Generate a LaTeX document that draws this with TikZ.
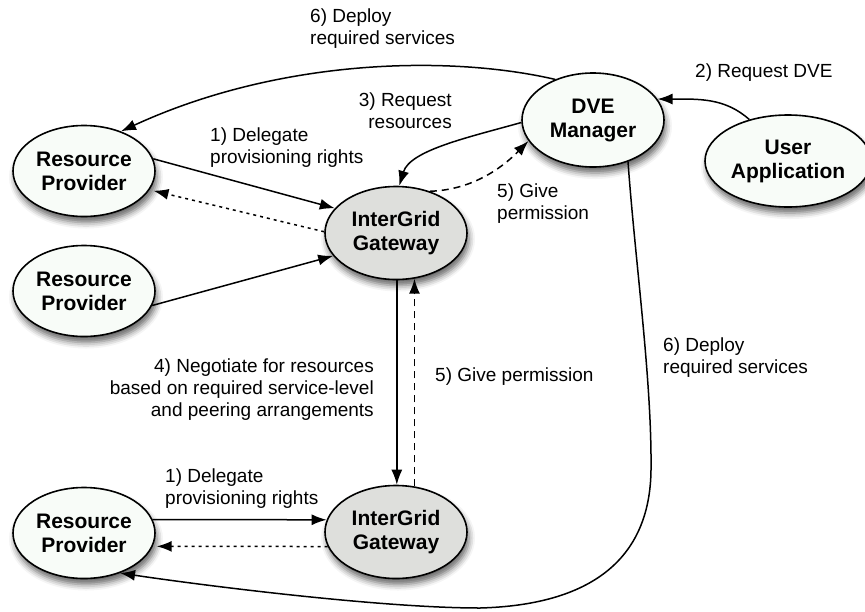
\documentclass[tikz,border=0pt]{standalone}
\usepackage{fontspec}
\setmainfont{Liberation Sans}
\usetikzlibrary{arrows.meta,shapes.geometric,shadows.blur}

\definecolor{nodewhite}{HTML}{F8FCF8}
\definecolor{nodegrey}{HTML}{DEDFDC}

\begin{document}
\begin{tikzpicture}[x=1pt,y=-1pt,
  agent/.style={ellipse, draw=black, line width=1.6pt, fill=nodewhite, inner sep=0pt,
    minimum width=142pt, minimum height=91pt, align=center,
    font=\fontsize{21}{24}\selectfont\bfseries,
    blur shadow={shadow xshift=2pt, shadow yshift=-6pt, shadow blur radius=6pt, shadow opacity=60}},
  gateway/.style={agent, fill=nodegrey},
  link/.style={line width=1.5pt, -{Latex[length=15pt,width=11pt]}},
  dashlink/.style={link, dash pattern=on 7pt off 5pt},
  dotlink/.style={link, dash pattern=on 3pt off 4pt, shorten >=4pt},
  lbl/.style={font=\fontsize{19}{22}\selectfont, inner sep=0pt}
]
\useasboundingbox (0,0) rectangle (865,611);

% participants
\node[agent] (rp1) at (84,171) {Resource\\Provider};
\node[agent] (rp2) at (84,291) {Resource\\Provider};
\node[agent] (rp3) at (84,533) {Resource\\Provider};
\node[gateway, minimum height=93pt] (ig1) at (396,233) {InterGrid\\Gateway};
\node[gateway, minimum height=93pt] (ig2) at (396,532) {InterGrid\\Gateway};
\node[agent, minimum height=94pt] (dve) at (593,120) {DVE\\Manager};
\node[agent, minimum width=166pt, minimum height=92pt] (ua) at (788,161) {User\\Application};

% waypoints of the long deployment path
\coordinate (bend1) at (651,470);
\coordinate (bend2) at (480,608);

% connectors
\draw[link] (dve.133) .. controls (450,55) and (280,58) .. (rp1.47);
\draw[link] (ua.133) .. controls (725,98) and (700,99) .. (dve.18);
\draw[link] (dve.182) .. controls (470,137) and (410,150) .. (ig1.86);
\draw[dashlink] (ig1.51) .. controls (470,190) and (500,170) .. (dve.198);
\draw[link] (rp1.10) -- (ig1.158);
\draw[dotlink] (ig1.179) -- (rp1.-16);
\draw[link] (rp2.-12) -- (ig1.200);
\draw[link] (ig1.-89) -- (ig2.89);
\draw[dashlink] (ig2.68) -- (ig1.-68);
\draw[link] (rp3.11) -- (ig2.170);
\draw[dotlink] (ig2.192) -- (rp3.-11);
\draw[link] (dve.-50) .. controls (635,260) and (652,380) .. (bend1)
  .. controls (650,560) and (590,605) .. (bend2)
  .. controls (380,608) and (200,585) .. (rp3.-48);

% labels
\node[lbl, anchor=west, align=left] (l6a) at (310,28.5) {6) Deploy\\required services};
\node[lbl, anchor=west] (l2) at (695,73) {2) Request DVE};
\node[lbl, anchor=east, align=right] (l3) at (452,111) {3) Request\\resources};
\node[lbl, anchor=west, align=left] (l1a) at (210,147.5) {1) Delegate\\provisioning rights};
\node[lbl, anchor=west, align=left] (l5a) at (497,204) {5) Give\\permission};
\node[lbl, anchor=east, align=right] (l4) at (374,390) {4) Negotiate for resources\\based on required service-level\\and peering arrangements};
\node[lbl, anchor=west] (l5b) at (435,377) {5) Give permission};
\node[lbl, anchor=west, align=left] (l6b) at (663,357.5) {6) Deploy\\required services};
\node[lbl, anchor=west, align=left] (l1b) at (165,489) {1) Delegate\\provisioning rights};
\end{tikzpicture}
\end{document}
